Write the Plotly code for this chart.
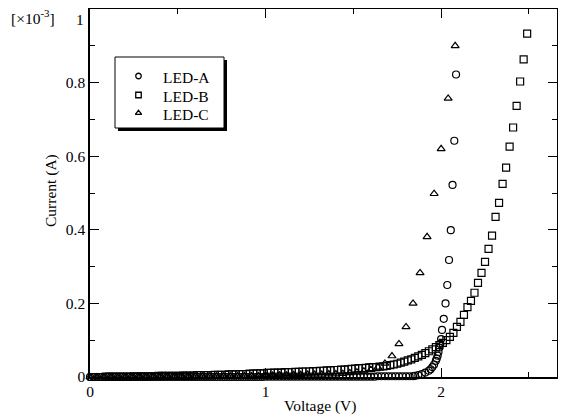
import plotly.graph_objects as go

# ---------------- data (current in units of 1e-3 A) ----------------
volt_a_low = [0.00, 0.02, 0.04, 0.06, 0.08, 0.10, 0.12, 0.14, 0.16, 0.18,
              0.20, 0.22, 0.24, 0.26, 0.28, 0.30, 0.32, 0.34, 0.36, 0.38,
              0.40, 0.42, 0.44, 0.46, 0.48, 0.50, 0.52, 0.54, 0.56, 0.58,
              0.60, 0.62, 0.64, 0.66, 0.68, 0.70, 0.72, 0.74, 0.76, 0.78,
              0.80, 0.82, 0.84, 0.86, 0.88, 0.90, 0.92, 0.94, 0.96, 0.98,
              1.00, 1.02, 1.04, 1.06, 1.08, 1.10, 1.12, 1.14, 1.16, 1.18,
              1.20, 1.22, 1.24, 1.26, 1.28, 1.30, 1.32, 1.34, 1.36, 1.38,
              1.40, 1.42, 1.44, 1.46, 1.48, 1.50, 1.52, 1.54, 1.56, 1.58,
              1.60, 1.62, 1.64, 1.66, 1.68, 1.70, 1.72, 1.74, 1.76, 1.78,
              1.80, 1.82, 1.84]
curr_a_low = [0.000, 0.000, 0.000, 0.000, 0.000, 0.000, 0.000, 0.000, 0.000, 0.000,
              0.000, 0.000, 0.000, 0.000, 0.000, 0.000, 0.000, 0.000, 0.000, 0.000,
              0.000, 0.000, 0.000, 0.000, 0.000, 0.000, 0.000, 0.000, 0.000, 0.000,
              0.000, 0.000, 0.000, 0.000, 0.000, 0.000, 0.000, 0.000, 0.000, 0.000,
              0.000, 0.000, 0.000, 0.000, 0.000, 0.000, 0.000, 0.000, 0.000, 0.000,
              0.001, 0.001, 0.001, 0.001, 0.001, 0.001, 0.001, 0.001, 0.001, 0.001,
              0.001, 0.001, 0.001, 0.001, 0.001, 0.001, 0.001, 0.001, 0.001, 0.001,
              0.001, 0.001, 0.001, 0.001, 0.001, 0.001, 0.001, 0.001, 0.001, 0.001,
              0.001, 0.001, 0.002, 0.002, 0.002, 0.002, 0.002, 0.002, 0.002, 0.002,
              0.002, 0.002, 0.002]
volt_a_high = [1.85, 1.87, 1.89, 1.91, 1.93, 1.94, 1.95, 1.96, 1.97, 1.975,
               1.98, 1.985, 1.99, 1.995, 2.00, 2.005, 2.015, 2.025, 2.035, 2.045,
               2.055, 2.065, 2.075, 2.085]
curr_a_high = [0.003, 0.005, 0.008, 0.012, 0.017, 0.021, 0.027, 0.034, 0.044, 0.050,
               0.058, 0.068, 0.080, 0.090, 0.103, 0.128, 0.158, 0.200, 0.250, 0.318,
               0.399, 0.522, 0.642, 0.822]

volt_b = [0.01, 0.03, 0.05, 0.07, 0.09, 0.11, 0.13, 0.15, 0.17, 0.19,
          0.21, 0.23, 0.25, 0.27, 0.29, 0.31, 0.33, 0.35, 0.37, 0.39,
          0.41, 0.43, 0.45, 0.47, 0.49, 0.51, 0.53, 0.55, 0.57, 0.59,
          0.61, 0.63, 0.65, 0.67, 0.69, 0.71, 0.73, 0.75, 0.77, 0.79,
          0.81, 0.83, 0.85, 0.87, 0.89, 0.91, 0.93, 0.95, 0.97, 0.99,
          1.01, 1.03, 1.05, 1.07, 1.09, 1.11, 1.13, 1.15, 1.17, 1.19,
          1.21, 1.23, 1.25, 1.27, 1.29, 1.31, 1.33, 1.35, 1.37, 1.39,
          1.41, 1.43, 1.45, 1.47, 1.49, 1.51, 1.53, 1.55, 1.57, 1.59,
          1.61, 1.63, 1.65, 1.67, 1.69, 1.71, 1.73, 1.75, 1.77, 1.79,
          1.81, 1.83, 1.85, 1.87, 1.89, 1.91, 1.93, 1.95, 1.97, 1.99,
          2.01, 2.03, 2.05, 2.07, 2.09, 2.11, 2.13, 2.15, 2.17, 2.19,
          2.21, 2.23, 2.25, 2.27, 2.29, 2.31, 2.33, 2.35, 2.37, 2.39,
          2.41, 2.43, 2.45, 2.47, 2.49]
curr_b = [0.000, 0.000, 0.000, 0.000, 0.001, 0.001, 0.001, 0.001, 0.001, 0.001,
          0.001, 0.001, 0.002, 0.002, 0.002, 0.002, 0.002, 0.002, 0.002, 0.003,
          0.003, 0.003, 0.003, 0.003, 0.003, 0.003, 0.004, 0.004, 0.004, 0.004,
          0.005, 0.005, 0.005, 0.005, 0.005, 0.006, 0.006, 0.006, 0.006, 0.007,
          0.007, 0.007, 0.008, 0.008, 0.008, 0.009, 0.009, 0.010, 0.010, 0.010,
          0.011, 0.011, 0.012, 0.012, 0.012, 0.013, 0.013, 0.013, 0.014, 0.014,
          0.015, 0.015, 0.015, 0.016, 0.016, 0.017, 0.017, 0.018, 0.018, 0.019,
          0.019, 0.020, 0.020, 0.021, 0.022, 0.023, 0.024, 0.024, 0.025, 0.026,
          0.027, 0.027, 0.028, 0.029, 0.030, 0.032, 0.034, 0.036, 0.039, 0.042,
          0.045, 0.048, 0.052, 0.056, 0.060, 0.065, 0.070, 0.075, 0.081, 0.087,
          0.093, 0.100, 0.109, 0.120, 0.136, 0.150, 0.169, 0.190, 0.207, 0.229,
          0.256, 0.283, 0.313, 0.348, 0.384, 0.435, 0.473, 0.525, 0.569, 0.626,
          0.678, 0.737, 0.803, 0.863, 0.933]

volt_c = [0.00, 0.04, 0.08, 0.12, 0.16, 0.20, 0.24, 0.28, 0.32, 0.36,
          0.40, 0.44, 0.48, 0.52, 0.56, 0.60, 0.64, 0.68, 0.72, 0.76,
          0.80, 0.84, 0.88, 0.92, 0.96, 1.00, 1.04, 1.08, 1.12, 1.16,
          1.20, 1.24, 1.28, 1.32, 1.36, 1.40, 1.44, 1.48, 1.52, 1.56,
          1.60, 1.64, 1.68, 1.72, 1.76, 1.80, 1.84, 1.88, 1.92, 1.96,
          2.00, 2.04, 2.08]
curr_c = [0.000, 0.000, 0.000, 0.000, 0.000, 0.000, 0.000, 0.001, 0.001, 0.001,
          0.001, 0.001, 0.001, 0.001, 0.001, 0.002, 0.002, 0.002, 0.002, 0.002,
          0.002, 0.003, 0.003, 0.003, 0.003, 0.004, 0.004, 0.005, 0.005, 0.006,
          0.006, 0.007, 0.007, 0.007, 0.008, 0.008, 0.009, 0.011, 0.013, 0.016,
          0.020, 0.026, 0.037, 0.057, 0.090, 0.136, 0.200, 0.283, 0.381, 0.498,
          0.620, 0.757, 0.900]

series_names = ["LED-A", "LED-B", "LED-C"]
series_symbols = ["circle-open", "square-open", "triangle-up-open"]

x_ticks = [0, 1, 2]
y_ticks = [0, 0.2, 0.4, 0.6, 0.8, 1]
y_tick_labels = ["0", "0.2", "0.4", "0.6", "0.8", "1"]

FONT = "Liberation Serif, Times New Roman, serif"
FS = 15.5

# The page body has an 8px default margin, so the figure is 8px smaller and
# everything is laid out in screenshot pixels then shifted.
OFF = 8
W, H = 566 - OFF, 416 - OFF
# plot-area geometry in screenshot pixels
L, R, T, B = 90, 557, 9, 377


def px(xp):
    return (xp - L) / (R - L)


def py(yp):
    return (B - yp) / (B - T)


fig = go.Figure()
mk = dict(color="black", size=7, line=dict(color="black", width=1.2))
series_x = [volt_a_low + volt_a_high, volt_b, volt_c]
series_y = [curr_a_low + curr_a_high, curr_b, curr_c]
for name, sym, xs, ys in zip(series_names, series_symbols, series_x, series_y):
    fig.add_trace(go.Scatter(x=xs, y=ys, mode="markers", name=name,
                             marker=dict(symbol=sym, **mk), cliponaxis=False,
                             showlegend=False))

# ---- hand-drawn legend ----
leg_x0, leg_x1, leg_y0, leg_y1 = 115, 224, 57, 128
leg_rows = [76, 95, 113]
fig.add_shape(type="rect", xref="paper", yref="paper",
              x0=px(leg_x0 + 3), x1=px(leg_x1 + 3), y0=py(leg_y1 + 3), y1=py(leg_y0 + 3),
              fillcolor="black", line=dict(width=0), layer="below")
fig.add_shape(type="rect", xref="paper", yref="paper",
              x0=px(leg_x0), x1=px(leg_x1), y0=py(leg_y1), y1=py(leg_y0),
              fillcolor="white", line=dict(color="black", width=1), layer="below")
fig.add_trace(go.Scatter(x=[138.5] * 3, y=leg_rows, mode="markers",
                         marker=dict(symbol=series_symbols, color="black", size=5.5,
                                     line=dict(color="black", width=1.3)),
                         xaxis="x2", yaxis="y2", showlegend=False, hoverinfo="skip",
                         cliponaxis=False))
for name, yy in zip(series_names, leg_rows):
    fig.add_annotation(text=name, xref="paper", yref="paper", x=px(161), y=py(yy + 1.5),
                       xanchor="left", yanchor="middle", showarrow=False,
                       font=dict(family=FONT, size=FS, color="black"))

# axis titles, unit label and the top "1" tick label
fig.add_annotation(text="Voltage (V)", xref="paper", yref="paper", x=px(320), y=py(406),
                   xanchor="center", yanchor="middle", showarrow=False,
                   font=dict(family=FONT, size=FS, color="black"))
fig.add_annotation(text="Current (A)", xref="paper", yref="paper", x=px(51), y=py(191),
                   xanchor="center", yanchor="middle", showarrow=False, textangle=-90,
                   font=dict(family=FONT, size=FS, color="black"))
fig.add_annotation(text="[×10<sup>-3</sup>]", xref="paper", yref="paper", x=px(9), y=py(17),
                   xanchor="left", yanchor="middle", showarrow=False,
                   font=dict(family=FONT, size=FS, color="black"))
fig.add_annotation(text=y_tick_labels[-1], xref="paper", yref="paper", x=px(86), y=py(19),
                   xanchor="right", yanchor="middle", showarrow=False,
                   font=dict(family=FONT, size=FS, color="black"))

axis_common = dict(showgrid=False, zeroline=False, showline=True, linecolor="black",
                   linewidth=1.5, mirror="allticks", ticks="inside", tickcolor="black",
                   tickwidth=1.2, ticklen=9, automargin=False,
                   tickfont=dict(family=FONT, size=FS, color="black"))

fig.update_layout(
    width=W, height=H,
    margin=dict(l=L - OFF, r=566 - R, t=T - OFF, b=416 - B),
    paper_bgcolor="white", plot_bgcolor="white",
    showlegend=False,
    font=dict(family=FONT, color="black"),
    xaxis=dict(range=[0, 2.66], tickvals=x_ticks, ticktext=[str(v) for v in x_ticks],
               minor=dict(dtick=0.5, ticks="inside", ticklen=5, tickcolor="black",
                          tickwidth=1.2),
               **axis_common),
    yaxis=dict(range=[0, 1.0], tickvals=y_ticks,
               ticktext=y_tick_labels[:-1] + [""],
               minor=dict(dtick=0.1, ticks="inside", ticklen=5, tickcolor="black",
                          tickwidth=1.2),
               **axis_common),
    xaxis2=dict(overlaying="x", range=[L, R], visible=False),
    yaxis2=dict(overlaying="y", range=[B, T], visible=False),
)

fig.write_html("out.html")
